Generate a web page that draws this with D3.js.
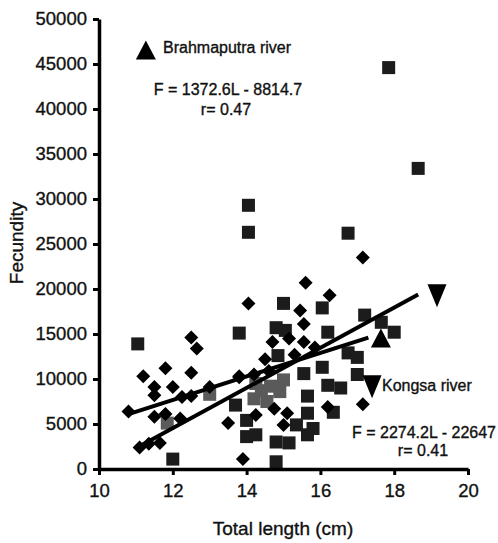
<!DOCTYPE html>
<html><head><meta charset="utf-8">
<script src="https://cdn.jsdelivr.net/npm/d3@7"></script>
<style>
body{margin:0;background:#fff;}
svg text{font-family:"Liberation Sans",Arial,Helvetica,sans-serif;fill:#111;stroke:#111;stroke-width:0.35px;}
</style></head>
<body><svg id="c" width="498" height="543"></svg>
<script>
// ---- data ----
const xTicks = [10, 12, 14, 16, 18, 20];
const yTicks = [0, 5000, 10000, 15000, 20000, 25000, 30000, 35000, 40000, 45000, 50000];

// diamonds: [total length (cm), fecundity]
const diamonds = [
 [10.8,6400],[11.2,10300],[11.8,11200],[11.5,9100],[11.5,8200],[12.0,9100],[12.5,10700],
 [12.25,8000],[12.5,8100],[13.0,9100],[11.5,5800],[11.8,6100],[12.2,5600],[11.1,2400],
 [11.35,2800],[11.65,2900],[12.5,14600],[12.65,13400],[13.5,5100],[13.8,10200],[13.9,1100],
 [14.05,18400],[15.6,20700],[16.25,19300],[15.45,17600],[15.55,16100],[14.7,14100],
 [15.15,14500],[15.55,14100],[14.5,12200],[15.3,12700],[15.85,13500],[14.2,10500],
 [14.25,6000],[15.1,6200],[14.75,6700],[15.0,4900],[17.15,7200],[16.2,6900],[17.15,23500],
 [13.8,10300],[14.6,10900]
];
// squares (dark)
const squares = [
 [11.05,13900],[12.0,1100],[13.8,15100],[13.7,7100],[14.0,5400],[14.0,3600],[15.0,18400],
 [14.8,15700],[15.05,15400],[14.85,12600],[16.05,17900],[16.2,15200],[17.2,17100],
 [17.65,16300],[18.0,15200],[16.75,12900],[17.0,12400],[16.05,11300],[15.55,10600],
 [17.0,10500],[16.2,9300],[16.55,9000],[15.65,8100],[16.35,6300],[15.65,6200],[14.25,3800],
 [14.8,3000],[15.15,2900],[15.35,4900],[15.8,4500],[15.65,3800],[14.8,800],
 [17.85,44600],[18.65,33400],[14.05,29300],[14.05,26300],[16.75,26200]
];
// squares (grey, halftone in the scan)
const greySquares = [
 [11.85,5100],[13.0,8300],[14.4,8700],[14.65,9200],[15.0,9900],[14.55,7500],[14.25,9500],
 [14.2,7800],[14.9,8600]
];
// regression lines, endpoints
const brahmaLine = [[10.8,6100],[17.3,14600]];   // F = 1372.6L - 8814.7
const kongsaLine = [[11.0,2300],[18.65,19400]];  // F = 2274.2L - 22647
// triangle markers: [L, F, direction]
const triangles = [[11.27,46500,"up"],[17.64,14500,"up"],[19.16,19300,"down"],[17.4,9200,"down"]];

// ---- drawing ----
const svg = d3.select("#c");
const x = d3.scaleLinear().domain([10,20]).range([99,468]);
const y = d3.scaleLinear().domain([0,50000]).range([469,19]);

// squares
svg.append("g").selectAll("rect").data(squares).join("rect")
  .attr("x", d => x(d[0]) - 6.5).attr("y", d => y(d[1]) - 6.5)
  .attr("width", 13).attr("height", 13).attr("fill", "#1c1c1c");
svg.append("g").selectAll("rect").data(greySquares).join("rect")
  .attr("x", d => x(d[0]) - 6.5).attr("y", d => y(d[1]) - 6.5)
  .attr("width", 13).attr("height", 13).attr("fill", "#5a5a5a");

// lines
const line = d3.line().x(d => x(d[0])).y(d => y(d[1]));
[brahmaLine, kongsaLine].forEach(l => {
  svg.append("path").attr("d", line(l)).attr("stroke", "#000")
    .attr("stroke-width", 4).attr("fill", "none");
});

// diamonds
svg.append("g").selectAll("path").data(diamonds).join("path")
  .attr("d", d => { const cx = x(d[0]), cy = y(d[1]), r = 7;
    return `M${cx},${cy-r}L${cx+r},${cy}L${cx},${cy+r}L${cx-r},${cy}Z`; })
  .attr("fill", "#000");

// triangles
svg.append("g").selectAll("path").data(triangles).join("path")
  .attr("d", d => { const cx = x(d[0]), cy = y(d[1]);
    if (d[2] === "up") return `M${cx},${cy-10}L${cx+10},${cy+9}L${cx-10},${cy+9}Z`;
    return `M${cx-9.5},${cy-11}L${cx+9.5},${cy-11}L${cx},${cy+12}Z`; })
  .attr("fill", "#000");

// axes
const yAxis = svg.append("g").attr("transform", "translate(99,0)")
  .call(d3.axisLeft(y).tickValues(yTicks).tickSize(6).tickSizeOuter(0).tickPadding(6).tickFormat(d3.format("d")));
const xAxis = svg.append("g").attr("transform", "translate(0,469)")
  .call(d3.axisBottom(x).tickValues(xTicks).tickSize(6).tickSizeOuter(0).tickPadding(9).tickFormat(d3.format("d")));
[yAxis, xAxis].forEach(a => {
  a.select(".domain").attr("stroke", "#000").attr("stroke-width", 3.5);
  a.selectAll(".tick line").attr("stroke", "#000").attr("stroke-width", 3);
  a.selectAll(".tick text").attr("font-size", 18.5).attr("font-family", "'Liberation Sans',Arial,sans-serif").attr("fill", "#111");
});

// axis titles
svg.append("text").attr("x", 283).attr("y", 535).attr("text-anchor", "middle")
  .attr("font-size", 19).text("Total length (cm)");
svg.append("text").attr("transform", "translate(23,243) rotate(-90)").attr("text-anchor", "middle")
  .attr("font-size", 19).text("Fecundity");

// annotations
svg.append("text").attr("x", 163).attr("y", 53).attr("font-size", 16).text("Brahmaputra river");
svg.append("text").attr("x", 228).attr("y", 95).attr("text-anchor", "middle").attr("font-size", 16).text("F = 1372.6L - 8814.7");
svg.append("text").attr("x", 226).attr("y", 115).attr("text-anchor", "middle").attr("font-size", 16).text("r= 0.47");
svg.append("text").attr("x", 382).attr("y", 391).attr("font-size", 16).text("Kongsa river");
svg.append("text").attr("x", 424).attr("y", 438).attr("text-anchor", "middle").attr("font-size", 16).text("F = 2274.2L - 22647");
svg.append("text").attr("x", 423).attr("y", 456).attr("text-anchor", "middle").attr("font-size", 16).text("r= 0.41");
</script></body></html>
